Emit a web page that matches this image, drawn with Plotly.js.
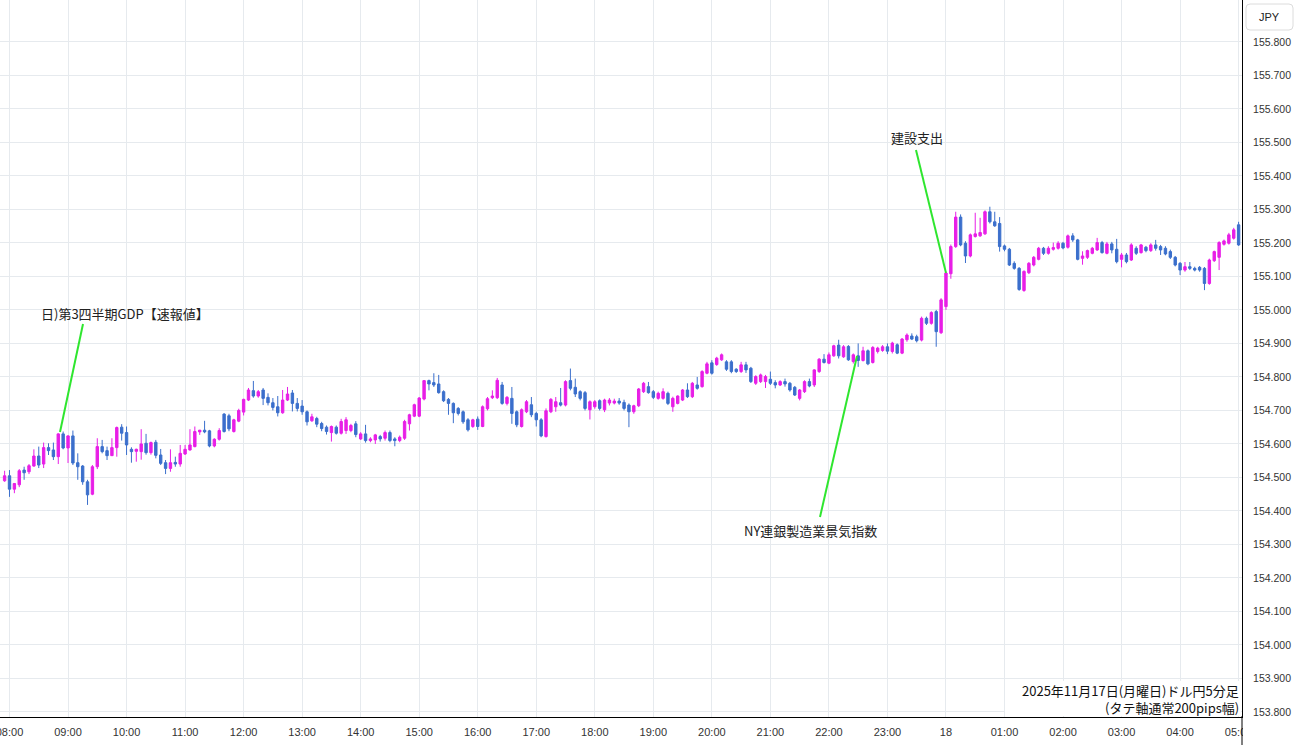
<!DOCTYPE html>
<html>
<head>
<meta charset="utf-8">
<script src="https://cdn.plot.ly/plotly-3.0.1.min.js"></script>
<style>html,body{margin:0;padding:0;background:#fff;}#chart{width:1300px;height:745px;}</style>
</head>
<body>
<div id="chart"></div>
<script>
// USD/JPY 5-minute candles, 2025-11-17 07:55 to 2025-11-18 05:00
const startTime = "2025-11-17 07:55";
const stepMinutes = 5;

const openP = [
154.490,154.505,154.465,154.478,154.522,154.517,154.534,154.564,154.540,154.589,
154.582,154.562,154.630,154.588,154.624,154.544,154.534,154.487,154.450,154.532,
154.592,154.580,154.565,154.589,154.650,154.634,154.584,154.578,154.577,154.602,
154.574,154.605,154.567,154.544,154.527,154.545,154.540,154.570,154.582,154.592,
154.636,154.641,154.639,154.594,154.614,154.689,154.684,154.637,154.668,154.695,
154.731,154.759,154.743,154.761,154.739,154.723,154.711,154.693,154.731,154.752,
154.721,154.713,154.696,154.669,154.676,154.661,154.650,154.634,154.650,154.632,
154.640,154.640,154.660,154.615,154.630,154.610,154.612,154.622,154.617,154.634,
154.615,154.610,154.617,154.660,154.683,154.683,154.734,154.789,154.783,154.779,
154.756,154.733,154.721,154.706,154.696,154.672,154.652,154.674,154.652,154.705,
154.738,154.738,154.776,154.721,154.736,154.696,154.652,154.696,154.717,154.691,
154.672,154.622,154.696,154.711,154.723,154.716,154.789,154.769,154.756,154.753,
154.702,154.711,154.729,154.702,154.722,154.722,154.728,154.724,154.716,154.696,
154.714,154.756,154.771,154.756,154.736,154.736,154.751,154.711,154.721,154.731,
154.761,154.741,154.776,154.771,154.811,154.842,154.837,154.851,154.845,154.845,
154.823,154.816,154.836,154.826,154.781,154.786,154.786,154.793,154.783,154.776,
154.786,154.781,154.769,154.736,154.756,154.786,154.776,154.816,154.853,154.841,
154.863,154.895,154.860,154.891,154.846,154.863,154.849,154.878,154.843,154.876,
154.879,154.890,154.876,154.896,154.871,154.911,154.922,154.920,154.910,154.975,
154.960,154.995,154.932,155.010,155.108,155.189,155.277,155.199,155.161,155.219,
155.221,155.227,155.293,155.263,155.258,155.191,155.181,155.139,155.124,155.058,
155.111,155.134,155.151,155.184,155.169,155.181,155.184,155.199,155.187,155.221,
155.209,155.154,155.157,155.169,155.179,155.201,155.169,155.197,155.181,155.151,
155.164,155.149,155.184,155.171,155.187,155.177,155.194,155.189,155.184,155.174,
155.157,155.139,155.119,155.129,155.124,155.127,155.124,155.079,155.147,155.157,
155.196,155.199,155.214,155.254
];
const highP = [
154.520,154.522,154.483,154.525,154.532,154.540,154.584,154.592,154.604,154.602,
154.604,154.632,154.637,154.626,154.640,154.572,154.537,154.493,154.537,154.617,
154.612,154.592,154.617,154.652,154.659,154.652,154.590,154.586,154.644,154.630,
154.607,154.612,154.585,154.552,154.584,154.562,154.597,154.597,154.644,154.652,
154.642,154.669,154.642,154.617,154.647,154.692,154.690,154.675,154.705,154.735,
154.767,154.788,154.761,154.767,154.751,154.737,154.743,154.761,154.770,154.761,
154.737,154.731,154.700,154.690,154.681,154.666,154.655,154.655,154.655,154.675,
154.680,154.660,154.668,154.635,154.657,154.620,154.630,154.627,154.640,154.640,
154.620,154.625,154.672,154.690,154.720,154.740,154.790,154.792,154.811,154.806,
154.760,154.737,154.724,154.710,154.700,154.677,154.675,154.682,154.715,154.740,
154.760,154.797,154.785,154.743,154.770,154.700,154.706,154.731,154.740,154.696,
154.677,154.706,154.737,154.740,154.767,154.790,154.825,154.795,154.760,154.758,
154.730,154.731,154.733,154.735,154.737,154.735,154.737,154.732,154.721,154.717,
154.767,154.785,154.785,154.761,154.756,154.766,154.756,154.741,154.745,154.764,
154.781,154.785,154.800,154.820,154.845,154.850,154.860,154.870,154.850,154.850,
154.826,154.845,154.845,154.830,154.805,154.810,154.806,154.816,154.790,154.790,
154.795,154.785,154.773,154.764,154.790,154.795,154.823,154.856,154.868,154.873,
154.896,154.911,154.895,154.895,154.870,154.900,154.890,154.882,154.892,154.890,
154.895,154.900,154.905,154.900,154.916,154.930,154.930,154.926,154.980,154.980,
154.996,155.000,155.035,155.115,155.195,155.293,155.285,155.205,155.228,155.290,
155.275,155.297,155.308,155.293,155.277,155.195,155.185,155.145,155.128,155.118,
155.143,155.161,155.188,155.188,155.190,155.201,155.205,155.203,155.225,155.229,
155.212,155.175,155.180,155.188,155.215,155.206,155.203,155.203,155.212,155.170,
155.170,155.199,155.190,155.197,155.191,155.199,155.209,155.194,155.190,155.180,
155.161,155.143,155.143,155.143,155.129,155.131,155.128,155.153,155.177,155.205,
155.210,155.230,155.245,155.263
];
const lowP = [
154.487,154.442,154.453,154.471,154.493,154.510,154.532,154.528,154.528,154.567,
154.552,154.540,154.584,154.543,154.537,154.493,154.478,154.418,154.447,154.525,
154.572,154.552,154.564,154.562,154.610,154.567,154.544,154.547,154.553,154.568,
154.568,154.557,154.537,154.510,154.517,154.532,154.532,154.567,154.580,154.590,
154.627,154.632,154.590,154.590,154.610,154.634,154.638,154.634,154.665,154.685,
154.728,154.738,154.738,154.716,154.715,154.700,154.682,154.690,154.728,154.697,
154.697,154.687,154.655,154.666,154.650,154.638,154.628,154.607,154.628,154.628,
154.630,154.635,154.620,154.612,154.604,154.605,154.600,154.607,154.610,154.605,
154.593,154.605,154.612,154.640,154.680,154.680,154.730,154.760,154.770,154.750,
154.725,154.687,154.662,154.685,154.660,154.637,154.648,154.642,154.650,154.700,
154.734,154.734,154.717,154.715,154.660,154.650,154.649,154.692,154.680,154.652,
154.620,154.619,154.692,154.696,154.712,154.712,154.760,154.740,154.730,154.700,
154.673,154.705,154.700,154.695,154.715,154.718,154.717,154.700,154.650,154.690,
154.710,154.752,154.750,154.734,154.732,154.732,154.716,154.696,154.718,154.728,
154.737,154.737,154.762,154.768,154.808,154.807,154.833,154.848,154.818,154.811,
154.812,154.812,154.812,154.782,154.776,154.782,154.767,154.776,154.766,154.773,
154.771,154.756,154.743,154.730,154.752,154.769,154.770,154.812,154.840,154.838,
154.860,154.855,154.857,154.848,154.840,154.830,154.846,154.835,154.840,154.870,
154.875,154.868,154.870,154.868,154.868,154.905,154.910,154.903,154.906,154.955,
154.956,154.890,154.928,155.000,155.093,155.185,155.190,155.140,155.157,155.216,
155.218,155.224,155.258,155.248,155.174,155.175,155.131,155.120,155.057,155.054,
155.107,155.130,155.148,155.164,155.165,155.177,155.180,155.181,155.183,155.203,
155.148,155.135,155.152,155.166,155.176,155.168,155.166,155.169,155.139,155.127,
155.139,155.146,155.164,155.168,155.172,155.173,155.177,155.164,155.163,155.152,
155.130,155.104,155.114,155.119,155.115,155.114,155.059,155.075,155.143,155.119,
155.192,155.195,155.210,155.191
];
const closeP = [
154.505,154.465,154.482,154.520,154.514,154.535,154.564,154.537,154.589,154.580,
154.562,154.630,154.588,154.624,154.543,154.532,154.487,154.448,154.532,154.592,
154.577,154.565,154.589,154.649,154.632,154.597,154.577,154.584,154.600,154.574,
154.604,154.566,154.542,154.527,154.544,154.540,154.572,154.584,154.597,154.637,
154.641,154.636,154.594,154.614,154.640,154.637,154.645,154.672,154.700,154.733,
154.761,154.743,154.756,154.736,154.723,154.709,154.693,154.731,154.749,154.721,
154.706,154.696,154.666,154.681,154.659,154.646,154.637,154.652,154.632,154.667,
154.672,154.655,154.628,154.630,154.610,154.615,154.627,154.615,154.634,154.610,
154.610,154.620,154.667,154.687,154.717,154.737,154.789,154.779,154.776,154.753,
154.729,154.721,154.693,154.691,154.666,154.642,154.672,154.652,154.711,154.735,
154.743,154.790,154.721,154.739,154.691,154.657,154.702,154.726,154.687,154.672,
154.624,154.699,154.733,154.726,154.716,154.786,154.766,154.749,154.736,154.706,
154.726,154.726,154.706,154.731,154.731,154.728,154.722,154.706,154.696,154.714,
154.764,154.781,154.753,154.739,154.751,154.756,154.721,154.736,154.743,154.761,
154.741,154.781,154.766,154.816,154.839,154.811,154.856,154.866,154.823,154.816,
154.816,154.836,154.821,154.786,154.801,154.806,154.801,154.781,154.776,154.786,
154.779,154.761,154.746,154.761,154.786,154.773,154.821,154.853,154.843,154.866,
154.893,154.863,154.890,154.851,154.866,154.849,154.878,154.839,154.888,154.886,
154.890,154.877,154.901,154.871,154.913,154.925,154.913,154.908,154.975,154.960,
154.992,154.935,155.030,155.110,155.189,155.277,155.194,155.161,155.224,155.227,
155.231,155.293,155.263,155.251,155.189,155.181,155.134,155.124,155.061,155.115,
155.139,155.157,155.184,155.169,155.184,155.186,155.199,155.185,155.221,155.209,
155.151,155.161,155.177,155.184,155.201,155.171,155.197,155.179,155.144,155.164,
155.144,155.194,155.169,155.194,155.177,155.194,155.184,155.179,155.167,155.157,
155.134,155.119,155.129,155.124,155.119,155.119,155.079,155.149,155.174,155.201,
155.206,155.224,155.239,155.194
];

const xTickVals = [
"2025-11-17 08:00","2025-11-17 09:00","2025-11-17 10:00","2025-11-17 11:00","2025-11-17 12:00",
"2025-11-17 13:00","2025-11-17 14:00","2025-11-17 15:00","2025-11-17 16:00","2025-11-17 17:00",
"2025-11-17 18:00","2025-11-17 19:00","2025-11-17 20:00","2025-11-17 21:00","2025-11-17 22:00",
"2025-11-17 23:00","2025-11-18 00:00","2025-11-18 01:00","2025-11-18 02:00","2025-11-18 03:00",
"2025-11-18 04:00","2025-11-18 05:00"
];
const xTickText = [
"08:00","09:00","10:00","11:00","12:00","13:00","14:00","15:00","16:00","17:00","18:00",
"19:00","20:00","21:00","22:00","23:00","18","01:00","02:00","03:00","04:00","05:00"
];
const yTickVals = [153.8,153.9,154.0,154.1,154.2,154.3,154.4,154.5,154.6,154.7,154.8,
154.9,155.0,155.1,155.2,155.3,155.4,155.5,155.6,155.7,155.8];
const yTickText = ["153.800","153.900","154.000","154.100","154.200","154.300","154.400",
"154.500","154.600","154.700","154.800","154.900","155.000","155.100","155.200","155.300",
"155.400","155.500","155.600","155.700","155.800"];

const calloutTexts = ["日)第3四半期GDP【速報値】","建設支出","NY連銀製造業景気指数"];
const footerLines = ["2025年11月17日(月曜日)ドル円5分足","(タテ軸通常200pips幅)"];
const currencyLabel = "JPY";

// build timestamps
function pad(n){return (n<10?"0":"")+n;}
const times = [];
(function(){
  const base = new Date(startTime.replace(" ","T")+":00Z").getTime();
  for (let i=0;i<closeP.length;i++){
    const d = new Date(base + i*stepMinutes*60000);
    times.push(d.getUTCFullYear()+"-"+pad(d.getUTCMonth()+1)+"-"+pad(d.getUTCDate())+" "+pad(d.getUTCHours())+":"+pad(d.getUTCMinutes()));
  }
})();

const UP = "#e81ee6", DOWN = "#3b6fcc", GREEN = "#2fe62f";
const PW = 1242, PH = 717;
const px = x => x/PW;
const py = y => 1 - y/PH;
const jpFont = "Noto Sans CJK JP, sans-serif";

const trace = {
  type: "candlestick",
  x: times, open: openP, high: highP, low: lowP, close: closeP,
  increasing: {line: {color: UP, width: 1}, fillcolor: UP},
  decreasing: {line: {color: DOWN, width: 1}, fillcolor: DOWN},
  whiskerwidth: 0,
  hoverinfo: "skip",
  showlegend: false
};

function roundRectPath(x0,y0,x1,y1,r){
  const X=v=>px(v), Y=v=>py(v);
  return "M"+X(x0+r)+","+Y(y0)+" L"+X(x1-r)+","+Y(y0)+" Q"+X(x1)+","+Y(y0)+" "+X(x1)+","+Y(y0+r)+
    " L"+X(x1)+","+Y(y1-r)+" Q"+X(x1)+","+Y(y1)+" "+X(x1-r)+","+Y(y1)+
    " L"+X(x0+r)+","+Y(y1)+" Q"+X(x0)+","+Y(y1)+" "+X(x0)+","+Y(y1-r)+
    " L"+X(x0)+","+Y(y0+r)+" Q"+X(x0)+","+Y(y0)+" "+X(x0+r)+","+Y(y0)+" Z";
}

const shapes = [
  // callout leader lines
  {type:"line", xref:"paper", yref:"paper", x0:px(83), y0:py(324), x1:px(60), y1:py(432), line:{color:GREEN, width:2}, layer:"above"},
  {type:"line", xref:"paper", yref:"paper", x0:px(916), y0:py(150), x1:px(946), y1:py(273), line:{color:GREEN, width:2}, layer:"above"},
  {type:"line", xref:"paper", yref:"paper", x0:px(820), y0:py(517), x1:px(857), y1:py(356), line:{color:GREEN, width:2}, layer:"above"},
  // footer white box
  {type:"rect", xref:"paper", yref:"paper", x0:px(1005), x1:px(1241), y0:py(681), y1:py(716), fillcolor:"#ffffff", line:{width:0}, layer:"above"},
  // clip x labels beyond the right axis
  {type:"rect", xref:"paper", yref:"paper", x0:px(1243), x1:px(1300), y0:py(718), y1:py(745), fillcolor:"#ffffff", line:{width:0}, layer:"above"},
  // right axis extension below
  {type:"line", xref:"paper", yref:"paper", x0:1, x1:1, y0:py(716), y1:py(745), line:{color:"#000", width:1}, layer:"above"},
  // JPY box
  {type:"path", xref:"paper", yref:"paper", path: roundRectPath(1246,4,1293,30,4), fillcolor:"#ffffff", line:{color:"#dcdcdc", width:1}, layer:"above"}
];

const annotations = [
  {xref:"paper", yref:"paper", x:px(125), y:py(314), text:calloutTexts[0], showarrow:false, xanchor:"center", yanchor:"middle", font:{family:jpFont, size:13, color:"#222"}},
  {xref:"paper", yref:"paper", x:px(917), y:py(138), text:calloutTexts[1], showarrow:false, xanchor:"center", yanchor:"middle", font:{family:jpFont, size:13, color:"#222"}},
  {xref:"paper", yref:"paper", x:px(810), y:py(530), text:calloutTexts[2], showarrow:false, xanchor:"center", yanchor:"middle", font:{family:jpFont, size:13, color:"#222"}},
  {xref:"paper", yref:"paper", x:px(1241), y:py(690), text:footerLines[0], showarrow:false, xanchor:"right", yanchor:"middle", font:{family:jpFont, size:13, color:"#111"}},
  {xref:"paper", yref:"paper", x:px(1241), y:py(707.5), text:footerLines[1], showarrow:false, xanchor:"right", yanchor:"middle", font:{family:jpFont, size:13, color:"#111"}},
  {xref:"paper", yref:"paper", x:px(1269.5), y:py(17), text:currencyLabel, showarrow:false, xanchor:"center", yanchor:"middle", font:{family:"Liberation Sans, Arial, sans-serif", size:11, color:"#222"}}
];

const layout = {
  width: 1300, height: 745,
  margin: {l:0, r:58, t:0, b:28, pad:0},
  paper_bgcolor: "#ffffff", plot_bgcolor: "#ffffff",
  showlegend: false,
  xaxis: {
    type: "date",
    range: ["2025-11-17 07:50:16", "2025-11-18 05:03:28"],
    tickmode: "array", tickvals: xTickVals, ticktext: xTickText,
    showgrid: true, gridcolor: "#e6eaee", gridwidth: 1,
    showline: true, linecolor: "#000000", linewidth: 1,
    ticks: "outside", ticklen: 5, tickcolor: "rgba(0,0,0,0)",
    tickfont: {family: "Liberation Sans, Arial, sans-serif", size: 11, color: "#333"},
    ticklabeloverflow: "allow",
    rangeslider: {visible: false},
    zeroline: false, fixedrange: true
  },
  yaxis: {
    side: "right",
    range: [153.785, 155.925],
    tickmode: "array", tickvals: yTickVals, ticktext: yTickText,
    showgrid: true, gridcolor: "#e6eaee", gridwidth: 1,
    showline: true, linecolor: "#000000", linewidth: 1,
    ticks: "outside", ticklen: 8, tickcolor: "rgba(0,0,0,0)",
    tickfont: {family: "Liberation Sans, Arial, sans-serif", size: 10.5, color: "#333"},
    zeroline: false, fixedrange: true
  },
  shapes: shapes,
  annotations: annotations
};

Plotly.newPlot("chart", [trace], layout, {displayModeBar: false, staticPlot: true});
</script>
</body>
</html>
